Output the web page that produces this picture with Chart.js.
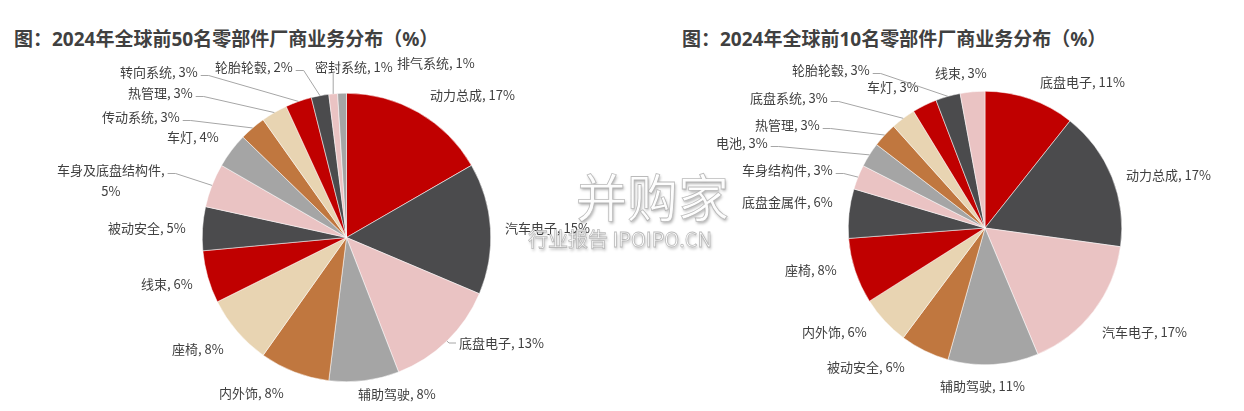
<!DOCTYPE html>
<html>
<head>
<meta charset="utf-8">
<script src="https://cdn.jsdelivr.net/npm/chart.js@4/dist/chart.umd.min.js"></script>
<style>
    body { margin: 0; background: #fff; width: 1244px; height: 411px; overflow: hidden; position: relative; font-family: "Noto Sans CJK SC", sans-serif; }
    .title { position: absolute; top: 24px; font-family: "Noto Sans", "Noto Sans CJK SC", sans-serif; font-size: 19px; font-weight: bold; color: #404040; white-space: nowrap; }
    canvas { position: absolute; top: 0; }
    .wm { position: absolute; color: rgba(255,255,255,0.95); -webkit-text-stroke: 0.8px rgba(170,170,170,0.8); text-shadow: 1px 2px 3px rgba(0,0,0,0.3); white-space: nowrap; pointer-events: none; }
</style>
</head>
<body>
<div class="title" id="title50" style="left:14px"></div>
<div class="title" id="title10" style="left:682px"></div>
<canvas id="pie50" width="622" height="411" style="left:0"></canvas>
<canvas id="pie10" width="622" height="411" style="left:622px"></canvas>
<div class="wm" style="left:576px; top:158px; font-size:51px;">并购家</div>
<div class="wm" style="left:528px; top:224px; font-size:20px;">行业报告 IPOIPO.CN</div>

<script>
// datos: top 50
const title50 = "图：2024年全球前50名零部件厂商业务分布（%）";
const names50 = ["动力总成", "汽车电子", "底盘电子", "辅助驾驶", "内外饰", "座椅", "线束", "被动安全",
    "车身及底盘结构件", "车灯", "传动系统", "热管理", "转向系统", "轮胎轮毂", "密封系统", "排气系统"];
const values50 = [17, 15, 13, 8, 8, 8, 6, 5, 5, 4, 3, 3, 3, 2, 1, 1];

// datos: top 10
const title10 = "图：2024年全球前10名零部件厂商业务分布（%）";
const names10 = ["底盘电子", "动力总成", "汽车电子", "辅助驾驶", "被动安全", "内外饰", "座椅", "底盘金属件",
    "车身结构件", "电池", "热管理", "底盘系统", "车灯", "轮胎轮毂", "线束"];
const values10 = [11, 17, 17, 11, 6, 6, 8, 6, 3, 3, 3, 3, 3, 3, 3];

const sliceColors = ["#C00000", "#4B4B4D", "#EAC3C3", "#A5A5A5", "#C0773F", "#E8D4B2"];

// posiciones de etiquetas: [x izq, y centro, lado de la linea guia, partir en dos lineas]
const labelPos50 = [
    [430, 95], [505, 228], [459, 343, "l"], [358, 394], [219, 393], [172, 349], [141, 284], [108, 228],
    [57, 170, "r", true], [167, 137], [102, 117, "r"], [128, 93, "r"], [120, 72, "r"], [215, 67, "r"],
    [315, 67, "b"], [397, 63],
];
const labelPos10 = [
    [418, 82], [504, 175], [480, 332], [318, 386], [205, 367], [180, 332], [163, 270], [120, 202],
    [120, 170, "r"], [94, 143, "r"], [133, 125, "r"], [128, 98, "r"], [245, 87], [170, 70, "r"], [313, 73],
];

document.getElementById("title50").textContent = title50;
document.getElementById("title10").textContent = title10;

// plugin para etiquetas estilo Excel con lineas guia
const sliceLabels = {
    id: "sliceLabels",
    afterDatasetsDraw(chart, args, opts) {
        const ctx = chart.ctx;
        const meta = chart.getDatasetMeta(0);
        const names = chart.data.labels;
        const vals = chart.data.datasets[0].data;
        ctx.save();
        ctx.font = '13px "Noto Sans CJK SC"';
        ctx.textBaseline = "middle";
        meta.data.forEach((arc, i) => {
            const pos = opts.positions[i];
            if (!pos) return;
            const [lx, ly, side, wrap] = pos;
            const p = arc.getProps(["x", "y", "startAngle", "endAngle", "outerRadius"], true);
            const mid = (p.startAngle + p.endAngle) / 2;
            const ax = p.x + Math.cos(mid) * p.outerRadius;
            const ay = p.y + Math.sin(mid) * p.outerRadius;

            const first = wrap ? names[i] + "," : names[i] + ", " + vals[i] + "%";
            const w = ctx.measureText(first).width;

            ctx.fillStyle = "#404040";
            ctx.textAlign = "left";
            ctx.fillText(first, lx, ly);
            if (wrap) {
                ctx.textAlign = "center";
                ctx.fillText(vals[i] + "%", lx + w / 2, ly + 21);
            }

            // linea guia
            if (!side) return;
            ctx.strokeStyle = "#A6A6A6";
            ctx.lineWidth = 1;
            ctx.beginPath();
            if (side === "r") {
                const sx = lx + w + 3, sy = ly + 3.5;
                ctx.moveTo(sx, sy);
                ctx.lineTo(sx + 8, sy);
            } else if (side === "l") {
                ctx.moveTo(lx - 3, ly);
                ctx.lineTo(lx - 10, ly);
            } else if (side === "b") {
                ctx.moveTo(ax, ly + 5);
            }
            ctx.lineTo(ax, ay);
            ctx.stroke();
        });
        ctx.restore();
    },
};

function makePie(id, names, values, positions, padding) {
    return new Chart(document.getElementById(id), {
        type: "pie",
        data: {
            labels: names,
            datasets: [{
                data: values,
                backgroundColor: names.map((_, i) => sliceColors[i % sliceColors.length]),
                borderColor: "#ffffff",
                borderWidth: 0.5,
            }],
        },
        options: {
            responsive: false,
            animation: false,
            layout: { padding },
            plugins: {
                legend: { display: false },
                tooltip: { enabled: false },
                sliceLabels: { positions },
            },
        },
        plugins: [sliceLabels],
    });
}

makePie("pie50", names50, values50, labelPos50, { left: 202, top: 93, right: 131, bottom: 29 });
makePie("pie10", names10, values10, labelPos10, { left: 226, top: 91, right: 122, bottom: 46 });
</script>
</body>
</html>
